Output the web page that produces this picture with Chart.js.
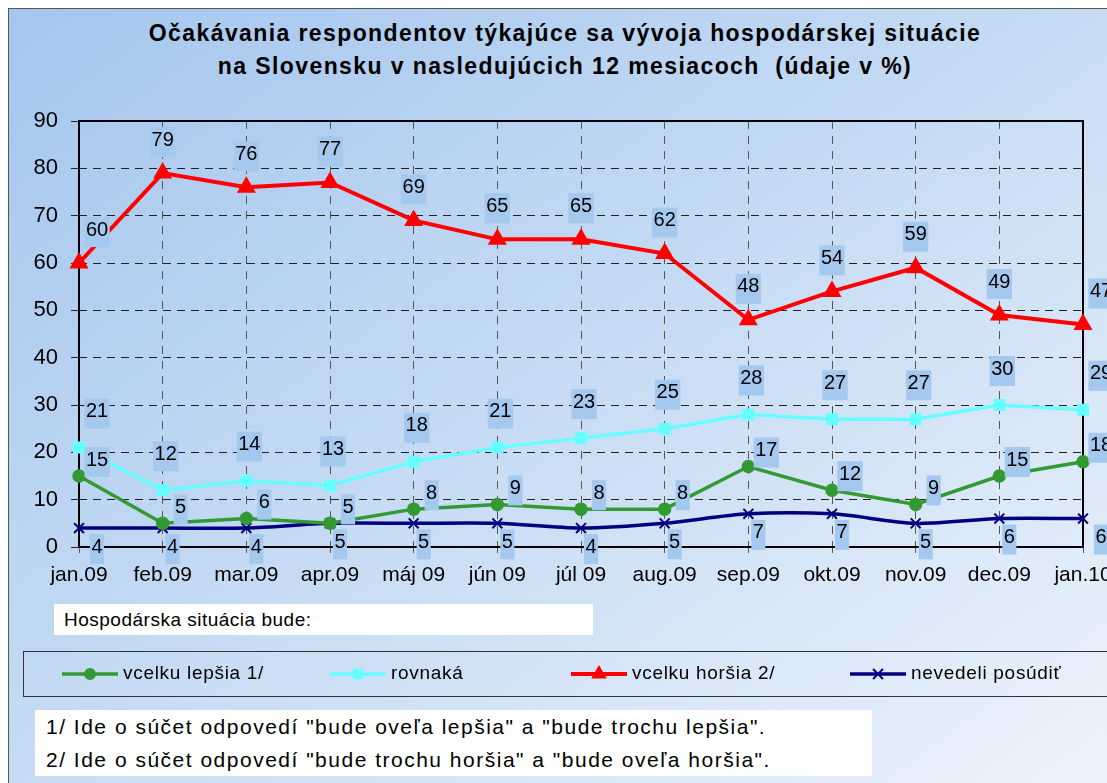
<!DOCTYPE html>
<html>
<head>
<meta charset="utf-8">
<script src="https://cdn.jsdelivr.net/npm/chart.js@4/dist/chart.umd.min.js"></script>
<style>
    body { margin: 0; background: #fff; font-family: Arial, "Liberation Sans", sans-serif; }
    #frame {
        position: absolute; left: 8px; top: 8px; width: 1120px; height: 800px;
        border-left: 1px solid #555; border-top: 1px solid #555;
        background: linear-gradient(to bottom right, #a4c6ee 0%, #c4daf3 45%, #eef4fc 100%);
    }
    #title {
        position: absolute; left: 15px; top: 17px; width: 1100px; text-align: center;
        font-weight: bold; font-size: 23px; line-height: 33px; letter-spacing: 1.4px; color: #000;
    }
    #caption {
        position: absolute; left: 54px; top: 604px; width: 539px; height: 31px; background: #fff;
        font-size: 19px; line-height: 31px; letter-spacing: 0.5px; padding-left: 10px; box-sizing: border-box;
    }
    #legendBox {
        position: absolute; left: 23px; top: 651px; width: 1110px; height: 46px;
        border: 1.5px solid #333; box-sizing: border-box;
    }
    #notes {
        position: absolute; left: 35px; top: 710px; width: 837px; height: 66px; background: #fff;
        font-size: 21px; line-height: 33px; letter-spacing: 1.5px; padding-left: 11px; box-sizing: border-box;
        white-space: nowrap;
    }
    #chart { position: absolute; left: 0; top: 0; }
</style>
</head>
<body>
<div id="frame"></div>
<div id="title">Očakávania respondentov týkajúce sa vývoja hospodárskej situácie<br>na Slovensku v nasledujúcich 12 mesiacoch&nbsp; (údaje v %)</div>
<div id="caption">Hospodárska situácia bude:</div>
<div id="legendBox"></div>
<div id="notes">1/ Ide o súčet odpovedí "bude oveľa lepšia" a "bude trochu lepšia".<br>2/ Ide o súčet odpovedí "bude trochu horšia" a "bude oveľa horšia".</div>
<canvas id="chart" width="1107" height="783"></canvas>
<script>
    const months = ['jan.09', 'feb.09', 'mar.09', 'apr.09', 'máj 09', 'jún 09', 'júl 09',
        'aug.09', 'sep.09', 'okt.09', 'nov.09', 'dec.09', 'jan.10'];
    const better = [15, 5, 6, 5, 8, 9, 8, 8, 17, 12, 9, 15, 18];
    const same = [21, 12, 14, 13, 18, 21, 23, 25, 28, 27, 27, 30, 29];
    const worse = [60, 79, 76, 77, 69, 65, 65, 62, 48, 54, 59, 49, 47];
    const dontKnow = [4, 4, 4, 5, 5, 5, 4, 5, 7, 7, 5, 6, 6];
    const yTicks = [0, 10, 20, 30, 40, 50, 60, 70, 80, 90];

    const FONT = 'Arial, "Liberation Sans", sans-serif';

    // value labels in light blue boxes, drawn over the lines
    const valueLabels = {
        id: 'valueLabels',
        afterDatasetsDraw(chart) {
            const ctx = chart.ctx;
            ctx.save();
            ctx.font = '20px ' + FONT;
            ctx.textAlign = 'center';
            ctx.textBaseline = 'middle';
            chart.data.datasets.forEach((ds, i) => {
                const meta = chart.getDatasetMeta(i);
                const last = meta.data.length - 1;
                meta.data.forEach((pt, j) => {
                    const txt = String(ds.data[j]);
                    const w = ctx.measureText(txt).width + 3;
                    // end points get pushed to the right like in the original
                    const dx = (j === 0 || j === last) ? Math.max(ds.labelDx, 18) : ds.labelDx;
                    const cx = pt.x + dx;
                    const cy = pt.y + ds.labelDy;
                    ctx.fillStyle = '#a5c8ef';
                    ctx.fillRect(cx - w / 2, cy - 15, w, 30);
                    ctx.fillStyle = '#000';
                    ctx.fillText(txt, cx, cy - 2);
                });
            });
            ctx.restore();
        }
    };

    // solid frame around the plot area
    const plotFrame = {
        id: 'plotFrame',
        beforeDatasetsDraw(chart) {
            const { ctx, chartArea: a } = chart;
            ctx.save();
            ctx.strokeStyle = '#000';
            ctx.lineWidth = 2;
            ctx.strokeRect(a.left, a.top, a.right - a.left, a.bottom - a.top);
            ctx.restore();
        }
    };

    // legend drawn inside the html box below the chart
    const boxLegend = {
        id: 'boxLegend',
        afterDraw(chart) {
            const ctx = chart.ctx;
            const starts = [62, 330, 571, 850];
            const y = 674;
            ctx.save();
            chart.data.datasets.forEach((ds, i) => {
                const x0 = starts[i];
                ctx.strokeStyle = ds.borderColor;
                ctx.lineWidth = ds.borderWidth;
                ctx.beginPath();
                ctx.moveTo(x0, y);
                ctx.lineTo(x0 + 56, y);
                ctx.stroke();
                ctx.fillStyle = ds.backgroundColor;
                ctx.strokeStyle = ds.borderColor;
                ctx.lineWidth = 2;
                Chart.helpers.drawPoint(ctx, { pointStyle: ds.pointStyle, radius: ds.pointRadius, rotation: 0, borderWidth: 2 }, x0 + 28, y);
                ctx.fillStyle = '#000';
                ctx.font = '19px ' + FONT;
                ctx.letterSpacing = '0.7px';
                ctx.textAlign = 'left';
                ctx.textBaseline = 'middle';
                ctx.fillText(ds.label, x0 + 61, y);
                ctx.letterSpacing = '0px';
            });
            ctx.restore();
        }
    };

    const ctx = document.getElementById('chart').getContext('2d');
    new Chart(ctx, {
        type: 'line',
        data: {
            labels: months,
            datasets: [
                {
                    label: 'vcelku lepšia 1/', data: better,
                    borderColor: '#339933', backgroundColor: '#339933', borderWidth: 3.5,
                    pointStyle: 'circle', pointRadius: 5, tension: 0,
                    labelDx: 18, labelDy: -14
                },
                {
                    label: 'rovnaká', data: same,
                    borderColor: '#66ffff', backgroundColor: '#66ffff', borderWidth: 3.5,
                    pointStyle: 'rect', pointRadius: 6, tension: 0,
                    labelDx: 3, labelDy: -34
                },
                {
                    label: 'vcelku horšia 2/', data: worse,
                    borderColor: '#ff0000', backgroundColor: '#ff0000', borderWidth: 4,
                    pointStyle: 'triangle', pointRadius: 7, tension: 0,
                    labelDx: 0, labelDy: -31
                },
                {
                    label: 'nevedeli posúdiť', data: dontKnow,
                    borderColor: '#000080', backgroundColor: '#000080', borderWidth: 3.5,
                    pointStyle: 'crossRot', pointRadius: 7, pointBorderWidth: 2, tension: 0.3,
                    labelDx: 10, labelDy: 21
                }
            ]
        },
        options: {
            responsive: false,
            animation: false,
            layout: { padding: { left: 0, top: 121, right: 24, bottom: 176 } },
            plugins: {
                legend: { display: false },
                tooltip: { enabled: false }
            },
            scales: {
                x: {
                    offset: false,
                    grid: { color: '#555', lineWidth: 1, tickLength: 6 },
                    border: { display: false, dash: [8, 7] },
                    ticks: { color: '#000', font: { size: 21, family: FONT }, padding: 10, maxRotation: 0, autoSkip: false },
                    afterFit(s) { s.height = 60; s.paddingLeft = 0; s.paddingRight = 0; }
                },
                y: {
                    min: 0, max: 90,
                    afterBuildTicks(s) { s.ticks = yTicks.map(v => ({ value: v })); },
                    grid: { color: '#222', lineWidth: 1, tickLength: 8 },
                    border: { display: false, dash: [8, 6] },
                    ticks: { color: '#000', font: { size: 22, family: FONT }, padding: 13 },
                    afterFit(s) { s.width = 79; }
                }
            }
        },
        plugins: [plotFrame, valueLabels, boxLegend]
    });
</script>
</body>
</html>
